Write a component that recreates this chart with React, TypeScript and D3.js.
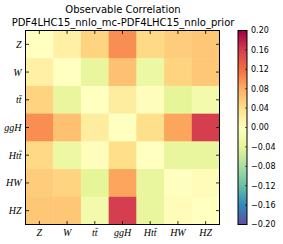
import React from 'react';
import * as d3 from 'd3';

// observables, top-to-bottom and left-to-right
const observables = ['Z', 'W', 'tt', 'ggH', 'Htt', 'HW', 'HZ'];

// correlation difference, one row per observable
const rowZ = [0.0, 0.02, 0.05, 0.1, 0.045, 0.055, 0.06];
const rowW = [0.02, 0.0, -0.035, 0.065, -0.03, 0.05, 0.06];
const rowTT = [0.05, -0.035, 0.0, 0.025, 0.002, -0.04, -0.02];
const rowGGH = [0.1, 0.065, 0.025, 0.0, 0.04, 0.085, 0.16];
const rowHTT = [0.045, -0.03, 0.002, 0.04, 0.0, -0.035, -0.035];
const rowHW = [0.055, 0.05, -0.04, 0.085, -0.035, 0.0, 0.005];
const rowHZ = [0.06, 0.06, -0.02, 0.16, -0.035, 0.005, 0.0];
const rows = [rowZ, rowW, rowTT, rowGGH, rowHTT, rowHW, rowHZ];

const colorbarTicks = [-0.2, -0.16, -0.12, -0.08, -0.04, 0.0, 0.04, 0.08, 0.12, 0.16, 0.2];

// matplotlib Spectral, reversed through the domain below
const spectral = ['#9e0142', '#d53e4f', '#f46d43', '#fdae61', '#fee08b', '#ffffbf',
    '#e6f598', '#abdda4', '#66c2a5', '#3288bd', '#5e4fa2'];

const width = 283;
const height = 244;
const plotLeft = 25.5;
const plotRight = 219.5;
const plotTop = 30.5;
const plotBottom = 224.5;
const cbLeft = 238;
const cbRight = 247;

const mathFont = '"Liberation Serif", "DejaVu Serif", serif';
const sans = '"DejaVu Sans", sans-serif';
const labelSize = 10;
const tWidth = 2.9; // approx advance of italic t at labelSize

// anchorX is the right edge (end) or centre (middle) of the label
function ObsLabel({ name, x, y, anchor, dy }: { name: string, x: number, y: number, anchor: 'end' | 'middle', dy?: number }) {
    const hasBar = name.endsWith('tt');
    let barLine = null;
    if (hasBar) {
        const w = name.length === 2 ? 2 * tWidth : 2 * tWidth + 7.2;
        const right = anchor === 'end' ? x : x + w / 2;
        const by = y + (dy || 0) - 7.6;
        barLine = <line x1={right - tWidth + 0.6} x2={right + 0.6} y1={by} y2={by} stroke="#000" strokeWidth={0.6} />
    }
    return <g>
        <text x={x} y={y} dy={dy} textAnchor={anchor} fontFamily={mathFont} fontStyle="italic" fontSize={labelSize}>{name}</text>
        {barLine}
    </g>
}

export default function App() {
    const x = d3.scaleBand().domain(observables).range([plotLeft, plotRight]);
    const y = d3.scaleBand().domain(observables).range([plotTop, plotBottom]);

    const color = d3.scaleLinear<string>()
        .domain(d3.range(spectral.length).map(i => 0.2 - i * 0.04))
        .range(spectral)
        .clamp(true);

    const cbY = d3.scaleLinear().domain([-0.2, 0.2]).range([plotBottom, plotTop]);

    return (
        <svg width={width} height={height} style={{ position: 'absolute', left: 0, top: 0, background: '#fff' }}>
            <defs>
                <linearGradient id="cbGrad" x1="0" y1="1" x2="0" y2="0">
                    {spectral.map((c, i) => (
                        <stop key={i} offset={`${(i / (spectral.length - 1)) * 100}%`} stopColor={spectral[spectral.length - 1 - i]} />
                    ))}
                </linearGradient>
            </defs>

            <text x={123} y={13} textAnchor="middle" fontFamily={sans} fontSize={10}>Observable Correlation</text>
            <text x={123} y={26} textAnchor="middle" fontFamily={sans} fontSize={10}>PDF4LHC15_nnlo_mc-PDF4LHC15_nnlo_prior</text>

            {rows.map((row, i) => row.map((v, j) => (
                <rect key={`${i}-${j}`}
                    x={x(observables[j])} y={y(observables[i])}
                    width={x.bandwidth() + 0.5} height={y.bandwidth() + 0.5}
                    fill={color(v)} />
            )))}

            {/* ticks on all four sides, pointing inward */}
            {observables.map(o => {
                const cx = x(o)! + x.bandwidth() / 2;
                const cy = y(o)! + y.bandwidth() / 2;
                return <g key={o} stroke="#000" strokeWidth={0.8}>
                    <line x1={cx} x2={cx} y1={plotTop} y2={plotTop + 3.5} />
                    <line x1={cx} x2={cx} y1={plotBottom} y2={plotBottom - 3.5} />
                    <line x1={plotLeft} x2={plotLeft + 3.5} y1={cy} y2={cy} />
                    <line x1={plotRight} x2={plotRight - 3.5} y1={cy} y2={cy} />
                </g>
            })}

            <rect x={plotLeft} y={plotTop} width={plotRight - plotLeft} height={plotBottom - plotTop}
                fill="none" stroke="#000" strokeWidth={1} />

            {observables.map(o => (
                <ObsLabel key={`l-${o}`} name={o} x={plotLeft - 4} y={y(o)! + y.bandwidth() / 2 + 3.5} anchor="end" />
            ))}
            {observables.map(o => (
                <ObsLabel key={`b-${o}`} name={o} x={x(o)! + x.bandwidth() / 2} y={236} anchor="middle" />
            ))}

            {/* colorbar */}
            <rect x={cbLeft} y={plotTop} width={cbRight - cbLeft} height={plotBottom - plotTop} fill="url(#cbGrad)" />
            {colorbarTicks.map(t => (
                <g key={t}>
                    <line x1={cbRight - 2} x2={cbRight} y1={cbY(t)} y2={cbY(t)} stroke="#000" strokeWidth={0.6} />
                    <text x={cbRight + 4} y={cbY(t)} dy="0.35em" fontFamily={sans} fontSize={8}>
                        {d3.format('.2f')(t).replace('-', '\u2212')}
                    </text>
                </g>
            ))}
            <rect x={cbLeft} y={plotTop} width={cbRight - cbLeft} height={plotBottom - plotTop}
                fill="none" stroke="#000" strokeWidth={1} />
        </svg>
    );
}
